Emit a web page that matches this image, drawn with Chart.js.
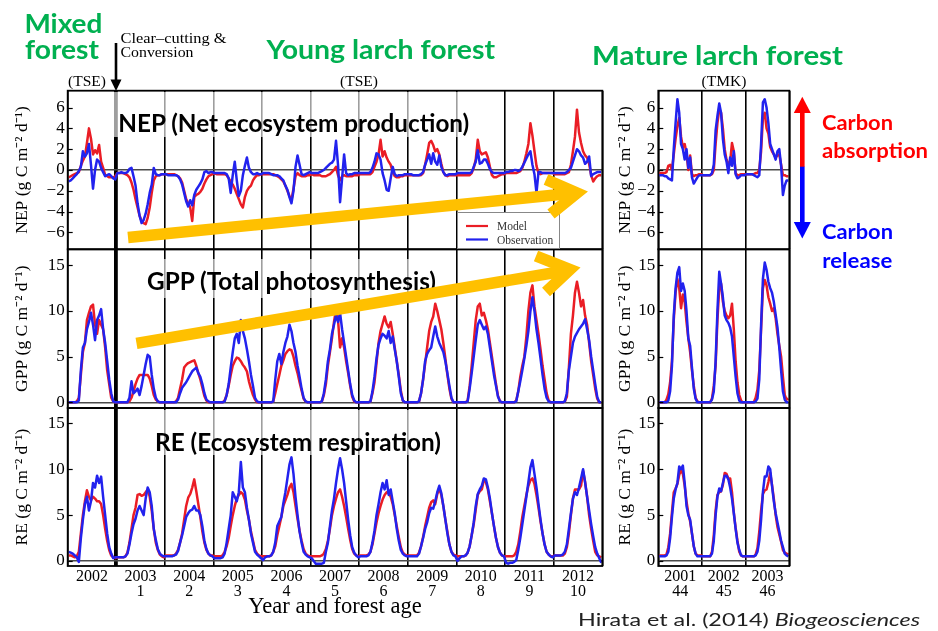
<!DOCTYPE html>
<html><head><meta charset="utf-8">
<script src="https://cdn.jsdelivr.net/npm/chart.js@4.4.1/dist/chart.umd.min.js"></script>
<style>
html,body{margin:0;padding:0;background:#fff;}
#wrap{position:relative;width:938px;height:631px;overflow:hidden;background:#fff;}
canvas{position:absolute;left:0;top:0;}
svg{position:absolute;left:0;top:0;}
</style></head><body>
<div id="wrap">
<canvas id="nepL" width="938" height="631"></canvas>
<canvas id="gppL" width="938" height="631"></canvas>
<canvas id="reL" width="938" height="631"></canvas>
<canvas id="nepR" width="938" height="631"></canvas>
<canvas id="gppR" width="938" height="631"></canvas>
<canvas id="reR" width="938" height="631"></canvas>
<svg width="938" height="631" viewBox="0 0 938 631">
 <g fill="#fff" fill-opacity="0.62">
  <rect x="108" y="92" width="370" height="45"/>
  <rect x="138" y="259" width="308" height="39"/>
  <rect x="145" y="410" width="308" height="45"/>
 </g>
 <g font-family="Lato, 'Open Sans', sans-serif" font-weight="700" fill="#000" font-size="24">
  <text x="118.3" y="131.5" textLength="351" lengthAdjust="spacingAndGlyphs">NEP (Net ecosystem production)</text>
  <text x="147" y="290" textLength="289" lengthAdjust="spacingAndGlyphs">GPP (Total photosynthesis)</text>
  <text x="155" y="450.5" textLength="286" lengthAdjust="spacingAndGlyphs">RE (Ecosystem respiration)</text>
 </g>
 <g font-family="Lato, sans-serif" font-weight="700" fill="#00B050" font-size="26">
  <text x="24.4" y="33.3" textLength="78" lengthAdjust="spacingAndGlyphs">Mixed</text>
  <text x="25" y="59" textLength="74" lengthAdjust="spacingAndGlyphs">forest</text>
  <text x="266.5" y="58.7" textLength="228.5" lengthAdjust="spacingAndGlyphs">Young larch forest</text>
  <text x="592" y="65" textLength="251" lengthAdjust="spacingAndGlyphs">Mature larch forest</text>
 </g>
 <g font-family="'Liberation Serif', 'Times New Roman', serif" fill="#000">
  <text x="120.5" y="42.5" font-size="15" textLength="106" lengthAdjust="spacingAndGlyphs">Clear–cutting &amp;</text>
  <text x="120.5" y="56.5" font-size="15" textLength="73" lengthAdjust="spacingAndGlyphs">Conversion</text>
  <text x="87" y="85.5" font-size="15.5" text-anchor="middle">(TSE)</text>
  <text x="359" y="85.5" font-size="15.5" text-anchor="middle">(TSE)</text>
  <text x="724" y="85.5" font-size="15.5" text-anchor="middle">(TMK)</text>
 </g>
 <line x1="116" y1="43" x2="116" y2="82" stroke="#000" stroke-width="2.6"/>
 <polygon points="110.5,79.5 121.5,79.5 116,91" fill="#000"/>
 <rect x="457.5" y="212.5" width="102" height="36" fill="#fff" stroke="#888" stroke-width="1"/>
 <line x1="466" y1="226" x2="488" y2="226" stroke="#ea1d25" stroke-width="2.2"/>
 <line x1="466" y1="239.5" x2="488" y2="239.5" stroke="#2222ee" stroke-width="2.2"/>
 <g font-family="'Liberation Serif', 'Times New Roman', serif" font-size="11.5" fill="#333">
  <text x="497" y="230">Model</text>
  <text x="497" y="243.5">Observation</text>
 </g>
 <g stroke="#FFC000" fill="none" stroke-width="11.5" stroke-linejoin="miter" stroke-miterlimit="10">
  <line x1="128" y1="237.5" x2="577" y2="192.8"/>
  <polyline points="546,179.5 577,193 551,214"/>
  <line x1="136.5" y1="343.3" x2="570" y2="270"/>
  <polyline points="536,256 570,269.5 546,292"/>
 </g>
 <polygon points="802.3,96.7 793.8,113 810.8,113" fill="#ff0000"/>
 <rect x="800" y="112" width="4.6" height="55" fill="#ff0000"/>
 <rect x="800" y="166.7" width="4.6" height="56" fill="#0000ff"/>
 <polygon points="793.8,222 810.8,222 802.3,238.5" fill="#0000ff"/>
 <g font-family="Lato, sans-serif" font-weight="700" font-size="21.5">
  <text x="822" y="130" fill="#ff0000" textLength="71" lengthAdjust="spacingAndGlyphs">Carbon</text>
  <text x="822" y="157.5" fill="#ff0000" textLength="106" lengthAdjust="spacingAndGlyphs">absorption</text>
  <text x="822" y="239.3" fill="#0000ff" textLength="71" lengthAdjust="spacingAndGlyphs">Carbon</text>
  <text x="822.3" y="268" fill="#0000ff" textLength="70" lengthAdjust="spacingAndGlyphs">release</text>
 </g>
 <text x="920" y="626" text-anchor="end" font-family="Lato, sans-serif" font-size="18" fill="#222" textLength="342" lengthAdjust="spacingAndGlyphs">Hirata et al. (2014) <tspan font-style="italic">Biogeosciences</tspan></text>
</svg>
</div>
<script>
// ---------- Category / tick labels ----------
const yearsTSE = ['2002','2003','2004','2005','2006','2007','2008','2009','2010','2011','2012'];
const agesTSE  = ['','1','2','3','4','5','6','7','8','9','10'];
const yearsTMK = ['2001','2002','2003'];
const agesTMK  = ['44','45','46'];
const nepTicks = [-6,-4,-2,0,2,4,6];
const fluxTicks = [0,5,10,15];
const stepsPerYear = 24; // semi-monthly values

// ---------- TSE (young larch) series, 2002-2012, 24 values per year ----------
const nepObsTSE = [
-1.1,-1.0,-0.8,-0.6,-0.4,-0.1,0.3,1.8,1.3,1.6,2.5,0.5,-1.8,0.0,1.0,0.8,0.2,-0.2,-0.6,-0.5,-0.4,-0.6,-0.8,-0.9,
-0.3,-0.3,-0.2,-0.3,-0.3,-0.2,0.1,0.2,-0.6,-1.5,-3.2,-4.4,-5.1,-4.8,-4.2,-3.3,-2.2,-1.4,0.2,-0.4,-0.5,-0.5,-0.4,-0.4,
-0.4,-0.5,-0.5,-0.5,-0.5,-0.5,-0.6,-0.9,-1.4,-2.2,-3.0,-3.5,-2.9,-3.4,-2.4,-1.9,-1.6,-1.3,-0.9,-0.2,-0.1,-0.3,-0.2,-0.2,
-0.3,-0.3,-0.3,-0.3,-0.3,-0.3,-0.4,-0.8,-2.2,-0.5,0.8,-1.0,-2.5,-2.0,-0.5,0.4,1.2,0.2,-0.2,-0.4,-0.4,-0.3,-0.4,-0.4,
-0.3,-0.3,-0.3,-0.3,-0.4,-0.5,-0.5,-0.5,-0.6,-0.8,-1.0,-1.5,-1.9,-2.6,-3.2,-2.0,0.3,1.4,0.5,-0.4,-0.5,-0.4,-0.3,-0.2,
-0.3,-0.3,-0.3,-0.3,-0.2,-0.1,0.0,0.2,0.4,0.6,0.7,1.0,2.8,0.5,-3.1,-0.8,1.5,-0.3,-0.5,-0.4,-0.4,-0.3,-0.3,-0.3,
-0.3,-0.3,-0.3,-0.3,-0.3,-0.2,0.2,0.8,1.6,1.5,1.0,-0.3,-1.0,-1.9,-2.0,-0.8,0.3,-0.4,-0.6,-0.5,-0.5,-0.5,-0.4,-0.4,
-0.4,-0.4,-0.5,-0.5,-0.5,-0.5,-0.4,-0.2,0.5,1.0,1.5,0.6,1.6,0.8,0.5,1.4,0.3,-0.2,-0.5,-0.5,-0.4,-0.4,-0.4,-0.4,
-0.3,-0.3,-0.3,-0.3,-0.3,-0.3,-0.3,-0.2,0.3,0.8,1.9,0.6,0.7,1.0,1.0,0.6,0.1,-0.2,-0.3,-0.3,-0.3,-0.3,-0.3,-0.3,
-0.2,-0.2,-0.1,-0.1,0.0,0.0,-0.1,0.0,0.3,0.7,1.1,1.5,1.8,0.5,-0.4,-2.2,-0.2,-0.2,-0.3,-0.3,-0.3,-0.3,-0.3,-0.3,
-0.3,-0.3,-0.3,-0.3,-0.3,-0.3,-0.2,0.0,0.2,0.8,1.4,2.0,1.8,1.4,1.2,0.6,0.8,1.3,-0.6,-0.4,-0.3,-0.2,-0.2,-0.2
];
const nepModTSE = [
-0.7,-0.6,-0.5,-0.4,-0.3,-0.2,0.4,0.9,1.3,2.6,4.0,3.0,1.5,1.9,1.6,2.4,0.8,0.2,-0.5,-0.6,-0.7,-0.7,-0.7,-0.6,
-0.3,-0.3,-0.3,-0.3,-0.4,-0.5,-0.7,-1.2,-1.9,-2.8,-3.6,-4.4,-4.9,-5.1,-5.2,-4.6,-3.6,-2.2,-1.0,-0.6,-0.5,-0.5,-0.4,-0.4,
-0.4,-0.4,-0.4,-0.4,-0.4,-0.5,-0.6,-0.8,-1.2,-2.0,-2.8,-3.2,-3.6,-4.9,-2.6,-2.4,-2.3,-2.1,-1.8,-1.3,-0.9,-0.6,-0.5,-0.4,
-0.3,-0.4,-0.4,-0.4,-0.4,-0.4,-0.5,-0.8,-1.1,-1.4,-1.8,-2.3,-2.8,-3.3,-3.6,-2.6,-2.0,-1.7,-1.5,-1.0,-0.7,-0.5,-0.5,-0.4,
-0.4,-0.4,-0.4,-0.4,-0.4,-0.4,-0.5,-0.6,-0.7,-0.9,-1.1,-1.5,-2.0,-2.5,-2.9,-1.8,-0.6,-0.3,-0.5,-0.6,-0.6,-0.6,-0.5,-0.5,
-0.4,-0.5,-0.5,-0.5,-0.5,-0.6,-0.6,-0.6,-0.5,-0.4,-0.2,0.0,0.3,-0.5,-1.0,-0.6,-0.5,-0.6,-0.6,-0.6,-0.6,-0.5,-0.5,-0.5,
-0.4,-0.4,-0.4,-0.4,-0.4,-0.4,-0.2,0.3,0.8,1.5,2.9,1.3,1.8,1.2,0.8,0.5,-0.2,-0.6,-0.7,-0.7,-0.6,-0.6,-0.5,-0.5,
-0.5,-0.5,-0.5,-0.5,-0.5,-0.5,-0.5,-0.3,0.5,1.5,2.6,2.8,2.4,1.8,2.0,1.5,0.6,-0.2,-0.5,-0.6,-0.5,-0.5,-0.5,-0.5,
-0.5,-0.5,-0.5,-0.5,-0.5,-0.5,-0.5,-0.3,0.2,1.0,2.9,1.8,1.5,1.6,1.7,1.2,0.3,-0.5,-0.7,-0.7,-0.6,-0.5,-0.4,-0.4,
-0.3,-0.3,-0.3,-0.3,-0.3,-0.3,-0.2,-0.1,0.2,0.8,1.6,2.5,4.5,3.3,1.8,0.4,-0.3,-0.4,-0.3,-0.3,-0.3,-0.3,-0.3,-0.3,
-0.4,-0.4,-0.4,-0.4,-0.4,-0.4,-0.3,-0.2,0.5,1.8,3.2,5.8,3.6,2.6,1.8,1.4,1.2,0.6,-0.5,-1.1,-0.8,-0.6,-0.5,-0.5
];
const gppObsTSE = [
0,0,0,0,0,0.2,3.5,6.0,6.5,8.0,8.8,9.8,8.5,6.8,9.0,9.5,10.2,8.0,6.5,4.5,2.5,1.0,0.1,0,
0,0,0,0,0,0,0.5,2.3,1.0,1.2,1.5,0.8,1.8,3.0,4.2,5.2,5.0,3.0,1.5,0.5,0.1,0,0,0,
0,0,0,0,0,0,0.3,1.0,1.6,1.9,2.2,2.6,3.0,3.4,3.6,3.8,3.2,2.8,2.0,1.0,0.3,0.1,0,0,
0,0,0,0,0,0.1,0.8,2.0,3.8,5.5,7.0,7.5,6.5,9.0,7.8,7.0,5.8,4.5,3.0,1.8,0.5,0.1,0,0,
0,0,0,0,0,0.1,2.5,4.5,5.3,4.2,5.5,6.5,7.2,8.5,7.8,6.5,5.5,4.0,2.8,1.5,0.5,0.1,0,0,
0,0,0,0,0,0.1,1.0,2.5,4.5,5.8,7.5,8.5,9.5,8.8,9.8,8.0,6.5,5.0,3.5,2.0,0.8,0.2,0,0,
0,0,0,0,0,0.1,1.2,2.8,4.8,6.3,7.0,7.5,7.3,7.0,7.8,6.5,7.2,5.8,4.5,2.8,1.0,0.2,0,0,
0,0,0,0,0,0.1,1.0,2.5,4.5,5.3,5.7,6.0,7.2,8.3,7.2,6.5,6.0,5.5,4.5,3.2,1.8,0.5,0,0,
0,0,0,0,0,0.1,1.5,3.2,5.0,6.8,8.5,9.0,8.5,8.0,8.3,7.5,6.0,4.5,3.0,1.8,0.6,0.1,0,0,
0,0,0,0,0,0.1,1.2,2.3,3.5,4.8,6.2,7.8,10.0,11.5,10.0,8.0,6.5,4.8,3.0,1.5,0.5,0.1,0,0,
0,0,0,0,0,0.1,1.0,3.5,5.0,6.5,7.2,7.6,8.0,8.3,8.6,9.1,8.0,6.8,5.0,3.5,2.0,0.6,0,0
];
const gppModTSE = [
0,0,0,0,0.1,0.5,3.0,5.5,6.5,9.0,9.8,10.5,10.7,8.5,7.5,9.0,8.5,8.0,6.0,3.5,2.0,0.5,0.1,0,
0,0,0,0,0,0,0.1,0.5,1.2,2.0,2.6,3.0,3.0,3.0,3.0,3.0,2.6,1.8,0.8,0.3,0.1,0,0,0,
0,0,0,0,0,0.1,0.5,1.5,2.5,3.8,4.1,4.3,4.4,4.5,4.6,4.0,3.2,2.5,1.6,0.7,0.2,0,0,0,
0,0,0,0,0,0.2,0.8,1.8,3.0,4.0,4.5,4.9,4.8,4.5,4.1,3.8,3.4,2.3,1.5,0.8,0.3,0,0,0,
0,0,0,0,0,0.1,1.0,2.0,3.0,4.0,4.6,5.3,5.6,5.8,5.7,5.0,4.0,3.2,2.2,1.3,0.4,0.1,0,0,
0,0,0,0,0,0.1,0.8,2.0,4.0,5.5,7.0,8.8,10.2,9.0,6.0,7.0,6.0,4.5,3.2,1.8,0.6,0.1,0,0,
0,0,0,0,0,0.1,1.0,2.2,4.3,6.5,7.8,8.6,9.4,8.6,8.2,8.8,7.5,6.0,4.5,3.0,1.3,0.2,0,0,
0,0,0,0,0,0.1,1.0,2.5,4.2,6.0,7.8,8.8,9.4,10.8,10.0,9.0,8.0,6.5,4.8,3.0,1.5,0.4,0,0,
0,0,0,0,0,0.2,1.8,4.0,6.5,9.0,10.5,10.8,9.5,9.8,9.0,8.0,6.5,5.0,3.5,2.0,0.7,0.1,0,0,
0,0,0,0,0,0.2,1.2,2.8,4.0,5.0,7.2,10.0,12.0,12.8,10.5,9.0,7.5,5.8,4.0,2.5,1.0,0.2,0,0,
0,0,0,0,0,0.1,0.6,3.8,7.5,9.5,12.0,13.2,12.0,10.5,11.2,9.5,8.5,6.5,4.5,3.0,1.5,0.4,0,0
];
const reObsTSE = [
1.0,0.9,0.8,0.6,0.4,-0.1,2.5,4.5,6.2,7.0,5.5,6.5,8.5,8.0,9.3,8.5,9.2,7.0,5.0,3.0,1.5,0.8,0.3,0.4,
0.4,0.4,0.4,0.4,0.5,0.8,1.8,3.0,4.0,4.6,5.5,6.0,5.5,5.0,6.8,8.0,7.5,6.0,3.5,2.3,1.3,0.8,0.6,0.5,
0.5,0.5,0.5,0.5,0.6,0.7,1.1,2.0,2.8,3.8,4.8,5.2,5.5,5.6,6.0,5.5,5.5,5.0,3.8,2.2,1.3,0.8,0.6,0.5,
0.3,0.3,0.3,0.3,0.4,0.8,2.0,3.5,5.0,7.5,7.0,6.5,7.5,10.8,8.0,7.5,5.8,4.5,3.0,2.0,1.0,0.7,0.5,0.3,
0.1,0.4,0.5,0.5,0.6,1.0,2.0,3.8,4.3,4.8,6.3,7.5,9.0,10.5,11.3,9.5,7.0,5.0,3.2,2.0,1.0,0.7,0.5,0.4,
0.3,0.0,-0.3,-0.3,-0.3,-0.3,-0.2,1.0,2.0,3.8,5.5,6.8,8.5,10.0,11.2,10.0,8.5,6.5,4.5,2.8,1.5,0.9,0.6,0.4,
0.5,0.5,0.5,0.5,0.6,1.0,2.0,3.3,5.0,6.2,7.5,8.5,7.8,8.8,7.2,7.8,6.5,5.2,3.5,2.2,1.2,0.8,0.6,0.5,
0.5,0.5,0.5,0.5,0.5,0.8,1.6,2.5,3.5,4.2,5.2,5.8,5.7,6.5,7.5,8.2,7.4,6.0,4.5,3.0,1.8,1.0,0.6,0.5,
0.0,0.3,0.5,0.5,0.6,0.9,1.6,2.8,4.2,6.0,7.3,7.8,8.2,9.0,8.9,8.0,6.8,5.2,3.8,2.5,1.5,0.9,0.6,0.5,
-0.2,-0.3,-0.2,-0.2,-0.1,0.1,1.2,2.5,4.0,5.5,7.0,8.6,10.2,11.0,9.5,8.0,6.2,4.5,3.0,1.8,1.0,0.7,0.5,0.4,
0.6,0.6,0.6,0.6,0.7,1.0,1.8,3.5,5.2,6.8,7.5,7.2,8.0,9.0,10.0,8.6,7.0,5.5,4.0,2.7,1.5,0.8,0.3,-0.2
];
const reModTSE = [
0.6,0.6,0.5,0.4,0.5,1.0,3.0,5.0,6.5,7.7,7.0,6.6,7.0,6.8,6.5,6.5,6.2,5.0,3.5,2.2,1.2,0.6,0.4,0.3,
0.4,0.4,0.4,0.4,0.5,0.9,2.0,3.5,5.0,5.8,7.2,7.3,7.1,7.2,7.5,7.8,7.0,5.5,3.5,2.0,1.2,0.7,0.5,0.4,
0.6,0.6,0.6,0.6,0.6,0.8,1.2,2.0,3.0,4.5,6.0,6.9,7.3,8.0,8.9,7.6,6.2,4.8,3.2,2.0,1.2,0.8,0.6,0.6,
0.5,0.5,0.5,0.5,0.6,1.0,1.6,2.5,3.8,5.0,6.0,6.8,7.2,7.5,7.3,6.7,5.5,4.5,3.2,2.2,1.2,0.8,0.6,0.5,
0.5,0.5,0.5,0.5,0.6,1.0,1.6,2.8,3.8,4.8,6.0,6.6,7.2,8.0,8.4,7.5,6.0,4.6,3.3,2.2,1.3,0.8,0.6,0.5,
0.5,0.5,0.5,0.5,0.5,0.6,0.8,1.3,2.2,3.5,5.0,6.0,6.8,7.5,7.8,7.0,6.0,4.8,3.5,2.3,1.3,0.8,0.6,0.5,
0.6,0.6,0.6,0.6,0.7,1.0,1.8,3.0,4.2,5.2,6.0,6.7,7.2,7.5,7.4,7.0,6.2,5.0,3.8,2.6,1.5,0.9,0.7,0.6,
0.6,0.6,0.6,0.6,0.6,0.9,1.6,2.6,3.8,4.8,5.8,6.4,6.6,6.2,7.3,7.9,7.2,6.0,4.5,3.2,1.8,1.0,0.7,0.6,
0.5,0.5,0.5,0.5,0.6,0.9,1.6,2.8,4.0,5.6,7.2,7.6,7.8,8.8,8.6,7.8,6.5,5.2,3.8,2.5,1.5,0.9,0.6,0.5,
0.5,0.5,0.5,0.5,0.6,1.0,1.8,3.2,4.8,6.0,7.2,8.2,8.8,9.0,8.4,7.2,5.8,4.3,3.0,1.8,1.0,0.7,0.5,0.5,
0.6,0.6,0.6,0.6,0.6,0.8,1.5,3.0,5.0,6.8,7.8,7.8,7.8,8.2,9.8,8.6,7.0,5.0,3.5,2.2,1.0,0.6,0.5,0.4
];

// ---------- TMK (mature larch) series, 2001-2003 ----------
const nepObsTMK = [
-0.5,-0.5,-0.5,-0.6,-0.6,-0.8,-0.9,-1.0,2.0,4.5,6.8,5.5,2.5,2.0,1.0,2.0,0.2,1.2,-0.7,-1.3,-1.0,-0.7,-0.5,-0.5,
-0.5,-0.5,-0.5,-0.5,-0.5,-0.3,0.5,3.8,5.2,6.4,5.5,3.0,1.5,0.8,-0.3,1.2,0.4,1.8,-0.4,-0.8,-0.7,-0.5,-0.5,-0.5,
-0.4,-0.4,-0.4,-0.4,-0.5,-0.6,-0.7,-0.5,2.5,6.5,6.8,6.0,4.5,2.5,2.0,1.5,1.0,1.8,2.0,0.4,-2.4,-1.5,-1.0,-1.0
];
const nepModTMK = [
-0.3,-0.3,-0.3,-0.3,-0.2,0.4,0.5,0.0,1.5,3.0,4.2,5.0,3.2,2.2,2.5,1.6,0.0,1.4,-0.4,-0.6,-0.5,-0.5,-0.4,-0.4,
-0.5,-0.5,-0.5,-0.5,-0.5,-0.4,0.0,2.5,4.5,5.8,5.5,4.0,2.0,1.0,0.6,0.8,2.6,1.8,-0.3,-0.5,-0.5,-0.4,-0.4,-0.4,
-0.4,-0.4,-0.4,-0.4,-0.4,-0.3,-0.3,0.0,1.8,5.0,5.5,4.0,3.5,2.2,1.8,1.5,1.2,1.4,1.5,0.5,-0.5,-0.5,-0.6,-0.6
];
const gppObsTMK = [
0,0,0,0,0,0.2,1.2,4.0,9.5,12.5,14.2,14.8,12.2,13.0,12.2,10.0,7.0,6.2,3.8,1.5,0.4,0,0,0,
0,0,0,0,0,0.3,1.2,4.5,10.0,14.3,13.0,11.5,9.5,9.0,8.7,8.2,7.2,5.0,2.8,1.0,0.2,0,0,0,
0,0,0,0,0,0.1,0.4,2.5,8.5,13.5,15.3,14.5,13.2,12.5,12.0,11.0,9.6,8.2,6.0,3.5,1.2,0.3,0,0
];
const gppModTMK = [
0,0,0,0,0.3,0.9,2.2,4.5,9.0,12.0,13.5,12.5,10.3,11.8,11.0,8.8,7.0,5.5,3.5,1.8,0.5,0.1,0,0,
0,0,0,0,0,0.4,1.8,4.0,9.0,12.5,13.0,11.0,10.0,9.5,9.2,9.5,10.8,8.0,4.5,2.2,0.8,0.2,0,0,
0,0,0,0,0,0.5,1.4,3.5,8.0,12.5,13.4,12.8,11.5,10.8,10.0,10.3,9.2,7.5,6.2,5.0,2.8,0.8,0.3,0.4
];
const reObsTMK = [
0.5,0.5,0.5,0.5,0.6,1.0,2.5,4.8,6.8,7.8,8.5,10.3,10.0,10.4,8.5,6.0,5.0,4.5,3.0,1.6,0.8,0.5,0.5,0.5,
0.5,0.5,0.5,0.5,0.5,0.8,2.2,5.0,7.0,7.9,7.6,8.5,9.3,9.3,8.9,8.0,6.8,5.2,3.5,2.0,1.2,0.6,0.5,0.5,
0.5,0.5,0.5,0.5,0.5,0.6,1.0,2.2,4.5,7.5,9.2,9.2,10.3,10.0,8.2,6.5,5.2,4.2,3.2,2.2,1.5,0.8,0.6,0.5
];
const reModTMK = [
0.6,0.6,0.6,0.6,0.7,1.5,3.0,5.3,7.5,7.9,8.4,9.4,9.9,9.5,8.2,6.5,5.2,4.3,3.0,1.6,0.8,0.6,0.6,0.6,
0.5,0.5,0.5,0.5,0.5,1.0,2.8,5.5,7.2,7.5,7.6,8.3,9.6,9.5,9.0,9.0,7.5,5.3,3.6,2.2,1.0,0.6,0.5,0.5,
0.5,0.5,0.5,0.5,0.5,0.7,1.4,3.2,5.5,7.3,7.7,7.8,8.6,9.6,8.3,6.8,5.0,3.7,2.9,2.1,1.2,0.9,0.8,0.7
];

// ---------- layout & styling ----------
const SERIF = "'Liberation Serif', 'Times New Roman', serif";
const RED = '#ea1d25', BLUE = '#2222ee';
const W = 938, H = 631;
const COLS = {
  tse: {padL: 0, axisW: 67.7, padR: W - 602.3, x0: 2002, x1: 2013, thick: 2003, titlePad: 11.5, years: yearsTSE, ages: agesTSE},
  tmk: {padL: 605, axisW: 53.3, padR: W - 789.3, x0: 2001, x1: 2004, thick: null, titlePad: 9.5, years: yearsTMK, ages: agesTMK}
};
const ROWS = {
  nep: {top: 90.7, bottom: 249.3, min: -7.62, max: 7.62, ticks: nepTicks, title: 'NEP (g C m⁻² d⁻¹)'},
  gpp: {top: 249.3, bottom: 408, min: -0.62, max: 16.75, ticks: fluxTicks, title: 'GPP (g C m⁻² d⁻¹)'},
  re:  {top: 408, bottom: 566, min: -0.55, max: 16.68, ticks: fluxTicks, title: 'RE (g C m⁻² d⁻¹)'}
};

function toPoints(values, startYear) {
  return values.map((v, i) => ({
    x: startYear + Math.floor(i / stepsPerYear) + ((i % stepsPerYear) + 0.5) / stepsPerYear,
    y: v
  }));
}

const panelBox = {
  id: 'panelBox',
  afterDraw(chart) {
    const {ctx, chartArea: a} = chart;
    const ys = chart.scales.y;
    ctx.save();
    ctx.strokeStyle = '#000';
    ctx.lineWidth = 1.8;
    ctx.strokeRect(a.left, a.top, a.right - a.left, a.bottom - a.top);
    ctx.lineWidth = 1.2;
    ys.ticks.forEach(t => {
      const py = Math.round(ys.getPixelForValue(t.value)) + 0.5;
      ctx.beginPath(); ctx.moveTo(a.left, py); ctx.lineTo(a.left + 5, py); ctx.stroke();
    });
    ctx.restore();
  }
};

function makeChart(id, col, row, obs, mod, isBottom, xTitle) {
  const xAxisH = isBottom ? 54.6 : 0;
  const yearW = (W - col.padR - (col.padL + col.axisW)) / (col.x1 - col.x0);
  const yearTicks = [];
  for (let y = col.x0; y <= col.x1; y++) yearTicks.push({value: y});
  return new Chart(document.getElementById(id), {
    type: 'line',
    data: {datasets: [
      {label: 'Observation', data: toPoints(obs, col.x0), borderColor: BLUE, borderWidth: 2.5,
       pointRadius: 0, order: 1, borderJoinStyle: 'round', fill: false},
      {label: 'Model', data: toPoints(mod, col.x0), borderColor: RED, borderWidth: 2.5,
       pointRadius: 0, order: 2, borderJoinStyle: 'round', fill: false}
    ]},
    options: {
      responsive: false, animation: false, events: [],
      layout: {padding: {left: col.padL, right: col.padR, top: row.top, bottom: H - row.bottom - xAxisH}},
      plugins: {legend: {display: false}, tooltip: {enabled: false}},
      scales: {
        x: {
          type: 'linear', min: col.x0, max: col.x1, offset: false,
          afterBuildTicks: ax => { ax.ticks = yearTicks.map(t => ({value: t.value})); },
          afterFit: ax => { ax.height = xAxisH; },
          grid: {color: '#000', drawTicks: false,
                 lineWidth: c => (col.thick && c.tick && c.tick.value === col.thick) ? 3.8 : 1.6},
          border: {display: false},
          ticks: {
            display: isBottom, autoSkip: false, maxRotation: 0, minRotation: 0, padding: 3,
            labelOffset: yearW / 2, color: '#000', font: {family: SERIF, size: 16, lineHeight: 0.95},
            callback: (v, i) => i < col.years.length ? (col.ages[i] ? [col.years[i], col.ages[i]] : col.years[i]) : ''
          },
          title: {display: !!xTitle, text: xTitle || '', color: '#000',
                  font: {family: SERIF, size: 22.5}, padding: {top: 0, bottom: 0}}
        },
        y: {
          min: row.min, max: row.max,
          afterBuildTicks: ax => { ax.ticks = row.ticks.map(v => ({value: v})); },
          afterFit: ax => { ax.width = col.axisW; },
          grid: {drawTicks: false, lineWidth: 1.5,
                 color: c => (c.tick && c.tick.value === 0) ? '#4a4a4a' : 'rgba(0,0,0,0)'},
          border: {display: false},
          ticks: {padding: 3, color: '#000', font: {family: SERIF, size: 17},
                  callback: v => String(v).replace('-', '\u2212')},
          title: {display: true, text: row.title, color: '#000',
                  font: {family: SERIF, size: 17.5}, padding: {top: col.titlePad, bottom: 0}}
        }
      }
    },
    plugins: [panelBox]
  });
}

makeChart('nepL', COLS.tse, ROWS.nep, nepObsTSE, nepModTSE, false);
makeChart('gppL', COLS.tse, ROWS.gpp, gppObsTSE, gppModTSE, false);
makeChart('reL',  COLS.tse, ROWS.re,  reObsTSE,  reModTSE,  true, 'Year and forest age');
makeChart('nepR', COLS.tmk, ROWS.nep, nepObsTMK, nepModTMK, false);
makeChart('gppR', COLS.tmk, ROWS.gpp, gppObsTMK, gppModTMK, false);
makeChart('reR',  COLS.tmk, ROWS.re,  reObsTMK,  reModTMK,  true);
</script>
</body></html>
